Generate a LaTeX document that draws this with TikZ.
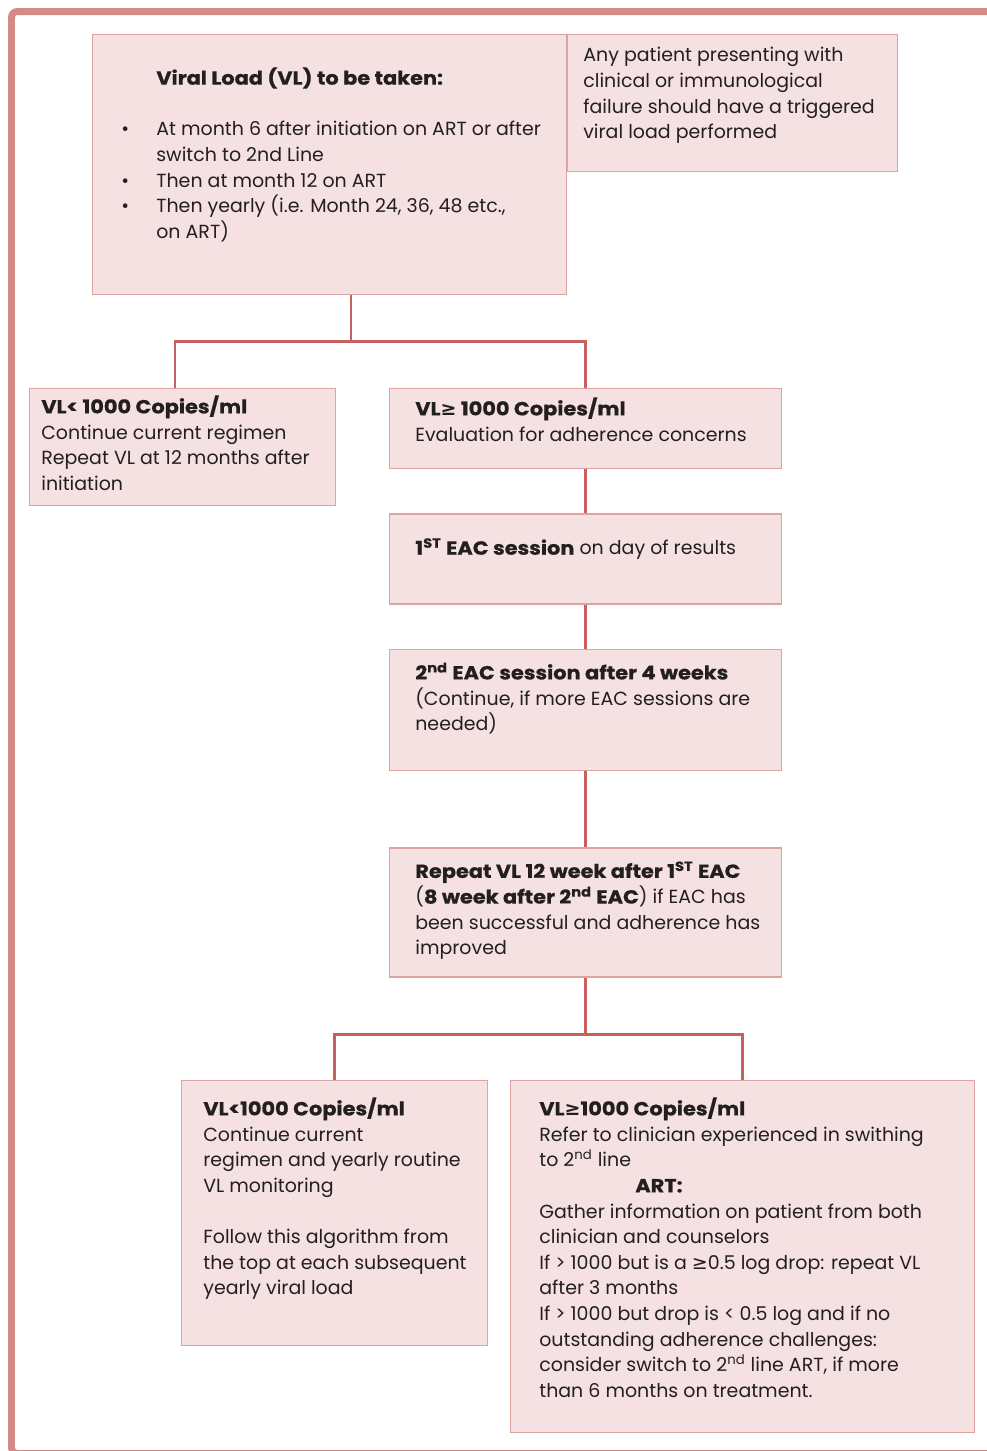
\documentclass[tikz,border=0pt]{standalone}
\usepackage{fontspec}
\setmainfont{Poppins}[BoldFeatures={FakeStretch=1.1, FakeBold=0.6}]
\newfontfamily\symfont{DejaVu Sans}
\usepackage{xcolor}
\usetikzlibrary{positioning, calc}
\definecolor{framered}{HTML}{D48A87}
\definecolor{boxfill}{HTML}{F5E1E1}
\definecolor{boxline}{HTML}{DDA3A1}
\definecolor{linkred}{HTML}{C8605F}
\definecolor{ink}{HTML}{231F20}
\newcommand{\gsym}{{\symfont ≥}}
\newcommand{\bul}{\makebox[0.7cm][l]{•}}
\newcommand{\ind}{\hspace*{0.7cm}}
\tikzset{
  panel/.style={
    rectangle, draw=boxline, fill=boxfill,
    line width=0.8pt, inner sep=0pt,
    anchor=north west
  },
  note/.style={
    anchor=north west, align=left, inner sep=0pt,
    text=ink, font=\fontsize{10.8}{14.6}\selectfont,
    execute at begin node=\strut
  },
  link/.style={draw=linkred, line width=1.7pt},
}

\begin{document}
\begin{tikzpicture}[x=0.02cm, y=-0.02cm]
  \useasboundingbox (0,0) rectangle (987,1451);
  % outer frame
  \begin{scope}
    \clip (0,0) rectangle (987,1451);
    \draw[framered, line width=0.14cm, rounded corners=0.12cm]
      (11.5,11.5) rectangle (1000,1453.5);
  \end{scope}

  \node[panel, minimum width=9.48cm, minimum height=5.2cm] (tk) at (92,34) {};
  \node[panel, minimum width=6.6cm, minimum height=2.74cm] (trg) at (567,34) {};
  \node[panel, minimum width=6.12cm, minimum height=2.34cm] (low1) at (29,388) {};
  \node[panel, minimum width=7.84cm, minimum height=1.6cm] (high1) at (389,388) {};
  \node[panel, minimum width=7.84cm, minimum height=1.8cm, below=0.88cm of high1] (eac1) {};
  \node[panel, minimum width=7.84cm, minimum height=2.42cm, below=0.88cm of eac1] (eac2) {};
  \node[panel, minimum width=7.84cm, minimum height=2.58cm, below=1.52cm of eac2] (rep) {};
  \node[panel, minimum width=6.12cm, minimum height=5.3cm] (low2) at (181,1080) {};
  \node[panel, minimum width=9.28cm, minimum height=7.04cm] (high2) at (510,1080) {};

  % texts
  \node[note, below right=0.66cm and 0.58cm of tk.north west] (tktxt)
    {\ind\textbf{Viral Load (VL) to be taken:}\\[0.51cm]
     \bul At month 6 after initiation on ART or after\\
     \ind switch to 2nd Line\\
     \bul Then at month 12 on ART\\
     \bul Then yearly (i.e. Month 24, 36, 48 etc.,\\
     \ind on ART)};
  \node[note, below right=0.26cm and 0.32cm of trg.north west] (trgtxt)
    {Any patient presenting with\\
     clinical or immunological\\
     failure should have a triggered\\
     viral load performed};
  \node[note, below right=0.14cm and 0.24cm of low1.north west] (low1txt)
    {\textbf{VL< 1000 Copies/ml}\\
     Continue current regimen\\
     Repeat VL at 12 months after\\
     initiation};
  \node[note, below right=0.18cm and 0.52cm of high1.north west] (high1txt)
    {\textbf{VL\gsym{} 1000 Copies/ml}\\
     Evaluation for adherence concerns};
  \node[note, below right=0.46cm and 0.52cm of eac1.north west] (eac1txt)
    {\textbf{1\textsuperscript{ST} EAC session} on day of results};
  \node[note, below right=0.27cm and 0.52cm of eac2.north west] (eac2txt)
    {\textbf{2\textsuperscript{nd} EAC session after 4 weeks}\\
     (Continue, if more EAC sessions are\\
     needed)};
  \node[note, below right=0.28cm and 0.52cm of rep.north west] (reptxt)
    {\textbf{Repeat VL 12 week after 1\textsuperscript{ST} EAC}\\
     (\textbf{8 week after 2\textsuperscript{nd} EAC}) if EAC has\\
     been successful and adherence has\\
     improved};
  \node[note, below right=0.34cm and 0.44cm of low2.north west] (low2txt)
    {\textbf{VL<1000 Copies/ml}\\
     Continue current\\
     regimen and yearly routine\\
     VL monitoring\\[0.51cm]
     Follow this algorithm from\\
     the top at each subsequent\\
     yearly viral load};
  \node[note, below right=0.34cm and 0.58cm of high2.north west] (high2txt)
    {\textbf{VL\gsym1000 Copies/ml}\\
     Refer to clinician experienced in swithing\\
     to 2\textsuperscript{nd} line\\
     \hspace*{1.92cm}\textbf{ART:}\\
     Gather information on patient from both\\
     clinician and counselors\\
     If > 1000 but is a \gsym0.5 log drop: repeat VL\\
     after 3 months\\
     If > 1000 but drop is < 0.5 log and if no\\
     outstanding adherence challenges:\\
     consider switch to 2\textsuperscript{nd} line ART, if more\\
     than 6 months on treatment.};

  % connectors
  \coordinate (j1) at (351,341);
  \coordinate (j1l) at (175,341);
  \coordinate (j2) at (584,1034);
  \draw[link] (tk.south -| j1) -- (j1);
  \draw[link] (low1.north -| j1l) |- (j1) -| (high1.north);
  \draw[link] (high1) -- (eac1);
  \draw[link] (eac1) -- (eac2);
  \draw[link] (eac2) -- (rep);
  \draw[link] (rep.south) -- (rep.south |- j2);
  \draw[link] (low2.north) |- (rep.south |- j2) -| (high2.north);
\end{tikzpicture}
\end{document}
